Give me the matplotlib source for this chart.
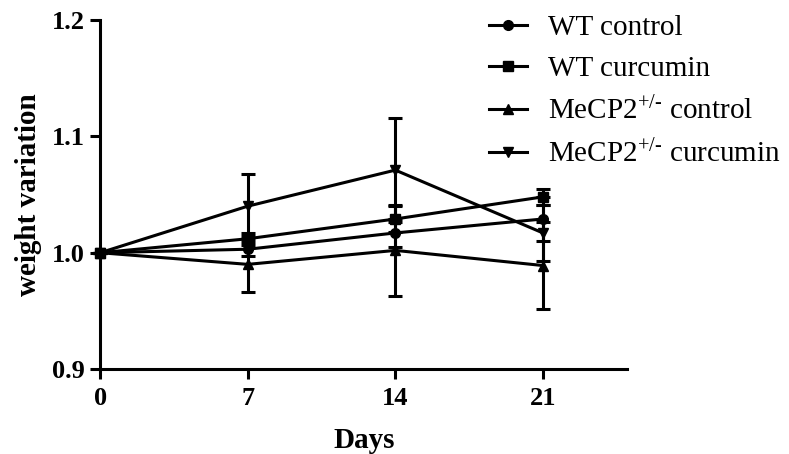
import matplotlib
matplotlib.use('Agg')
import matplotlib.pyplot as plt
from matplotlib.lines import Line2D

plt.rcParams['font.family'] = ['Liberation Serif', 'DejaVu Serif']
plt.rcParams['mathtext.fontset'] = 'custom'
plt.rcParams['mathtext.rm'] = 'Liberation Serif'
plt.rcParams['mathtext.it'] = 'Liberation Serif:italic'
plt.rcParams['mathtext.bf'] = 'Liberation Serif:bold'

# data
days = [0, 7, 14, 21]
wt_control = [1.000, 1.003, 1.017, 1.029]
wt_control_err = [0, 0.006, 0.012, 0.019]
wt_curcumin = [1.000, 1.012, 1.029, 1.048]
wt_curcumin_err = [0, 0.005, 0.011, 0.007]
mecp2_control = [1.000, 0.990, 1.002, 0.989]
mecp2_control_err = [0, 0.024, 0.039, 0.037]
mecp2_curcumin = [1.000, 1.040, 1.071, 1.017]
mecp2_curcumin_err = [0, 0.028, 0.045, 0.024]

series = [
    ('WT control', wt_control, wt_control_err, 'o', 7),
    ('WT curcumin', wt_curcumin, wt_curcumin_err, 's', 7),
    (r'MeCP2$^{\text{+/-}}$ control', mecp2_control, mecp2_control_err, '^', 6.5),
    (r'MeCP2$^{\text{+/-}}$ curcumin', mecp2_curcumin, mecp2_curcumin_err, 'v', 6.5),
]

fig = plt.figure(figsize=(7.89, 4.54), dpi=100)
ax = fig.add_axes([0.127, 0.187, 0.668, 0.769])

handles = []
for label, vals, errs, mk, ms in series:
    ax.errorbar(days, vals, yerr=errs, color='black', marker=mk,
                markersize=ms, linewidth=2.2, elinewidth=2.2, capsize=5, capthick=2.2,
                clip_on=False, zorder=3)
    handles.append(Line2D([], [], color='black', marker=mk, markersize=ms,
                          linewidth=2.2, label=label))

ax.set_xlim(0, 25)
ax.set_ylim(0.9, 1.2)
ax.set_xticks(days)
ax.set_yticks([0.9, 1.0, 1.1, 1.2])
ax.set_yticklabels(['0.9', '1.0', '1.1', '1.2'])
for s in ['top', 'right']:
    ax.spines[s].set_visible(False)
for s in ['left', 'bottom']:
    ax.spines[s].set_linewidth(2.2)
ax.tick_params(width=2.2, length=7, labelsize=19)
ax.tick_params(axis='x', pad=6)
ax.tick_params(axis='y', pad=4)
for t in ax.get_xticklabels() + ax.get_yticklabels():
    t.set_fontweight('bold')

ax.set_xlabel('Days', fontsize=21, fontweight='bold', labelpad=12)
ax.set_ylabel('weight variation', fontsize=21, fontweight='bold', labelpad=7)

ax.legend(handles=handles, loc='upper left', bbox_to_anchor=(0.62, 0.967),
          bbox_transform=fig.transFigure, frameon=False, fontsize=21,
          handlelength=1.3, handletextpad=0.7, labelspacing=0.5,
          borderpad=0, borderaxespad=0)

fig.savefig('out.png', dpi=100, facecolor='white')
